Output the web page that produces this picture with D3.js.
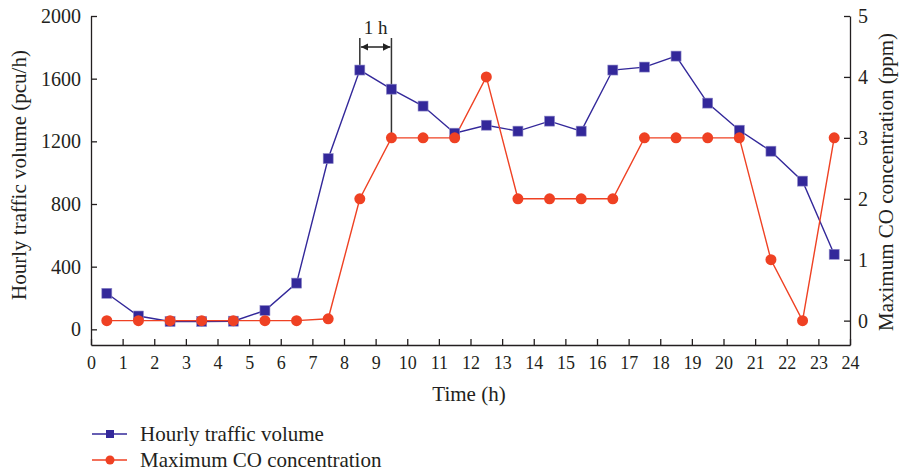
<!DOCTYPE html>
<html><head><meta charset="utf-8">
<script src="https://cdn.jsdelivr.net/npm/d3@7"></script>
<style>
body{margin:0;background:#fff;}
svg text{font-family:"Liberation Serif","Times New Roman",serif;fill:#231f20;}
</style></head>
<body><svg id="c" width="899" height="472"></svg>
<script>
const hours = [0.5,1.5,2.5,3.5,4.5,5.5,6.5,7.5,8.5,9.5,10.5,11.5,12.5,13.5,14.5,15.5,16.5,17.5,18.5,19.5,20.5,21.5,22.5,23.5];
const traffic = [230,85,50,50,52,120,295,1090,1655,1533,1425,1252,1303,1265,1329,1265,1655,1674,1744,1444,1271,1137,946,479];
const coMax = [0,0,0,0,0,0,0,0.03,2,3,3,3,4,2,2,2,2,3,3,3,3,1,0,3];
const xTicks = d3.range(0,25,1);
const leftTicks = [0,400,800,1200,1600,2000];
const rightTicks = [0,1,2,3,4,5];
const seriesNames = ["Hourly traffic volume","Maximum CO concentration"];
const xTitle = "Time (h)";
const yLeftTitle = "Hourly traffic volume (pcu/h)";
const yRightTitle = "Maximum CO concentration (ppm)";
const annotText = "1 h";

const blue = "#33289a", red = "#ef4123", ink = "#231f20";
const svg = d3.select("#c");
const x = d3.scaleLinear().domain([0,24]).range([91,850]);
const yL = d3.scaleLinear().domain([-100,2000]).range([345,16]);
const yR = d3.scaleLinear().domain([-0.4,5]).range([345,16]);
const fsX = 18, fsY = 20, fsT = 21;

function styleAxis(fs){ return g=>{
  g.selectAll("path,line").attr("stroke",ink).attr("stroke-width",1.3);
  g.selectAll("text").attr("font-size",fs).attr("fill",ink)
   .style("font-family","'Liberation Serif',serif");
};}
svg.append("g").attr("transform","translate(0,345)")
  .call(d3.axisBottom(x).tickValues(xTicks).tickSize(-6).tickSizeOuter(0).tickPadding(11).tickFormat(d3.format("d")))
  .call(styleAxis(fsX));
svg.append("g").attr("transform","translate(91,0)")
  .call(d3.axisLeft(yL).tickValues(leftTicks).tickSize(-6).tickSizeOuter(0).tickPadding(10).tickFormat(d3.format("d")))
  .call(styleAxis(fsY));
svg.append("g").attr("transform","translate(850,0)")
  .call(d3.axisRight(yR).tickValues(rightTicks).tickSize(-6).tickSizeOuter(0).tickPadding(8).tickFormat(d3.format("d")))
  .call(styleAxis(fsY));

svg.append("text").attr("x",469).attr("y",401).attr("text-anchor","middle").attr("font-size",fsT).text(xTitle);
svg.append("text").attr("transform","translate(26,175) rotate(-90)").attr("text-anchor","middle").attr("font-size",fsT).text(yLeftTitle);
svg.append("text").attr("transform","translate(893,182) rotate(-90)").attr("text-anchor","middle").attr("font-size",fsT).text(yRightTitle);

// annotation
const ax1 = x(8.5), ax2 = x(9.5);
svg.append("line").attr("x1",ax1).attr("x2",ax1).attr("y1",38).attr("y2",yL(traffic[8])).attr("stroke","#333").attr("stroke-width",1.5);
svg.append("line").attr("x1",ax2).attr("x2",ax2).attr("y1",38).attr("y2",yR(coMax[9])).attr("stroke","#333").attr("stroke-width",1.5);
const defs = svg.append("defs");
defs.append("marker").attr("id","ah").attr("viewBox","0 0 10 10").attr("refX",10).attr("refY",5)
  .attr("markerWidth",5).attr("markerHeight",5).attr("orient","auto-start-reverse")
  .append("path").attr("d","M0,0L10,5L0,10z").attr("fill","#222");
svg.append("line").attr("x1",ax1+1).attr("x2",ax2-1).attr("y1",47).attr("y2",47)
  .attr("stroke","#222").attr("stroke-width",1.5).attr("marker-start","url(#ah)").attr("marker-end","url(#ah)");
svg.append("text").attr("x",(ax1+ax2)/2).attr("y",34).attr("text-anchor","middle").attr("font-size",19).text(annotText);

// series
const lineT = d3.line().x((d,i)=>x(hours[i])).y(d=>yL(d));
const lineC = d3.line().x((d,i)=>x(hours[i])).y(d=>yR(d));
svg.append("path").datum(traffic).attr("d",lineT).attr("fill","none").attr("stroke",blue).attr("stroke-width",1.4);
svg.append("path").datum(coMax).attr("d",lineC).attr("fill","none").attr("stroke",red).attr("stroke-width",1.4);
const sq = 10;
svg.append("g").selectAll("rect").data(traffic).join("rect")
  .attr("x",(d,i)=>x(hours[i])-sq/2).attr("y",d=>yL(d)-sq/2).attr("width",sq).attr("height",sq)
  .attr("fill",blue).attr("stroke","#8f8ac8").attr("stroke-width",0.6);
svg.append("g").selectAll("circle").data(coMax).join("circle")
  .attr("cx",(d,i)=>x(hours[i])).attr("cy",d=>yR(d)).attr("r",5.5).attr("fill",red);

// legend
const lg = svg.append("g");
[[434,blue,"sq"],[460,red,"ci"]].forEach((r,k)=>{
  lg.append("line").attr("x1",92).attr("x2",127).attr("y1",r[0]).attr("y2",r[0]).attr("stroke",r[1]).attr("stroke-width",1.4);
  if(r[2]==="sq") lg.append("rect").attr("x",110-4).attr("y",r[0]-4).attr("width",8).attr("height",8).attr("fill",blue);
  else lg.append("circle").attr("cx",110).attr("cy",r[0]).attr("r",4.5).attr("fill",red);
  lg.append("text").attr("x",140).attr("y",r[0]+7).attr("font-size",fsT).text(seriesNames[k]);
});
</script></body></html>
